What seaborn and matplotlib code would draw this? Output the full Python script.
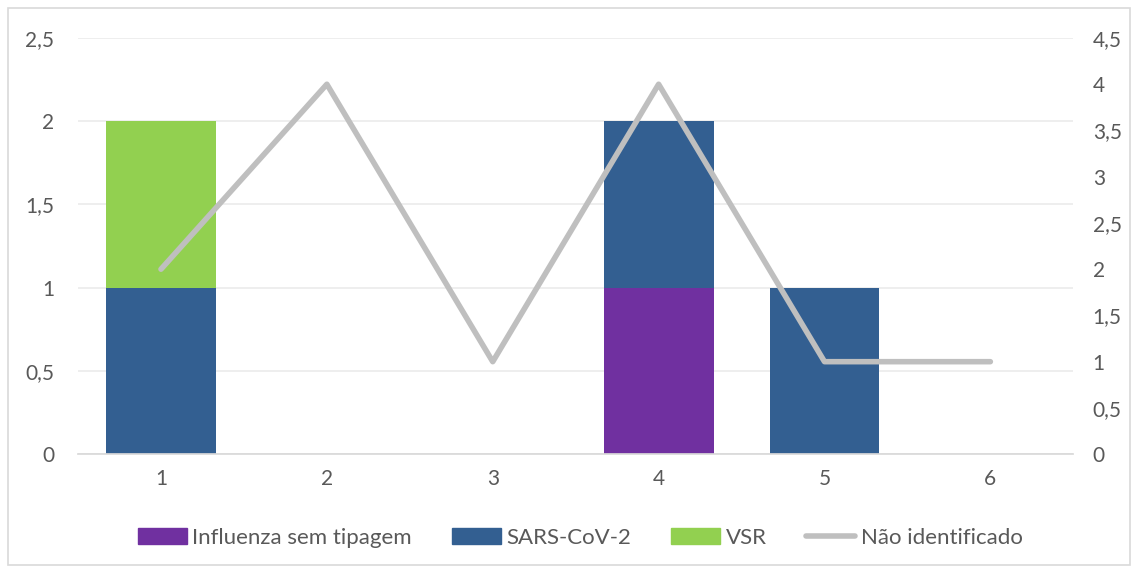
import numpy as np
import pandas as pd
import matplotlib
matplotlib.use("Agg")
import matplotlib.pyplot as plt
import seaborn as sns
from matplotlib.patches import Rectangle, Patch
from matplotlib.lines import Line2D
from matplotlib.ticker import FuncFormatter, MultipleLocator

# data
categories = ["1", "2", "3", "4", "5", "6"]
influenza = [0, 0, 0, 1, 0, 0]
sars_cov2 = [1, 0, 0, 1, 1, 0]
vsr = [1, 0, 0, 0, 0, 0]
nao_identificado = [2, 4, 1, 4, 1, 1]

C_FLU = "#7030A0"
C_SARS = "#335F91"
C_VSR = "#92D050"
C_LINE = "#BFBFBF"
TXT = "#595959"

sns.set_theme(style="white")
plt.rcParams["font.family"] = ["Lato", "DejaVu Sans"]

df = pd.DataFrame({
    "cat": categories,
    "flu": influenza,
    "sars": sars_cov2,
    "vsr": vsr,
})
df["top_sars"] = df["flu"] + df["sars"]
df["top_vsr"] = df["top_sars"] + df["vsr"]

fig = plt.figure(figsize=(11.31, 5.67), dpi=100)
ax = fig.add_axes([0.069, 0.199, 0.880, 0.734])

# stacked bars: draw cumulative totals from the top down
for col, color in [("top_vsr", C_VSR), ("top_sars", C_SARS), ("flu", C_FLU)]:
    sns.barplot(data=df, x="cat", y=col, color=color, width=0.663,
                saturation=1, linewidth=0, ax=ax, order=categories)

ax.set_ylim(0, 2.5)
ax.set_xlim(-0.5, 5.5)
ax.yaxis.set_major_locator(MultipleLocator(0.5))
fmt = FuncFormatter(lambda v, p: f"{v:g}".replace(".", ","))
ax.yaxis.set_major_formatter(fmt)
ax.grid(axis="y", color="#EBEBEB", lw=1.2)
ax.set_axisbelow(True)
ax.set_xlabel("")
ax.set_ylabel("")
for s in ["top", "right", "left"]:
    ax.spines[s].set_visible(False)
ax.spines["bottom"].set_color("#D9D9D9")
ax.tick_params(axis="both", length=0, labelsize=15, colors=TXT, pad=11)
ax.tick_params(axis="y", pad=17)

ax2 = ax.twinx()
sns.lineplot(x=np.arange(len(categories)), y=nao_identificado, color=C_LINE,
             lw=4, ax=ax2)
ax2.set_ylim(0, 4.5)
ax2.yaxis.set_major_locator(MultipleLocator(0.5))
ax2.yaxis.set_major_formatter(fmt)
ax2.set_xlim(-0.5, 5.5)
ax2.set_ylabel("")
for s in ["top", "right", "left", "bottom"]:
    ax2.spines[s].set_visible(False)
ax2.tick_params(axis="y", length=0, labelsize=15, colors=TXT, pad=14)
ax2.grid(False)

handles = [
    Patch(color=C_FLU, label="Influenza sem tipagem"),
    Patch(color=C_SARS, label="SARS-CoV-2"),
    Patch(color=C_VSR, label="VSR"),
    Line2D([0], [0], color=C_LINE, lw=4, label="Não identificado"),
]
fig.legend(handles=handles, loc="center", bbox_to_anchor=(0.513, 0.052),
           ncol=4, frameon=False, fontsize=16, labelcolor=TXT,
           handlelength=2.2, handleheight=0.7, columnspacing=1.8,
           handletextpad=0.25)

fig.patches.append(Rectangle((0.007, 0.003), 0.992, 0.983, transform=fig.transFigure,
                             fill=False, edgecolor="#D9D9D9", lw=1.2))

fig.savefig("out.png", dpi=100)
